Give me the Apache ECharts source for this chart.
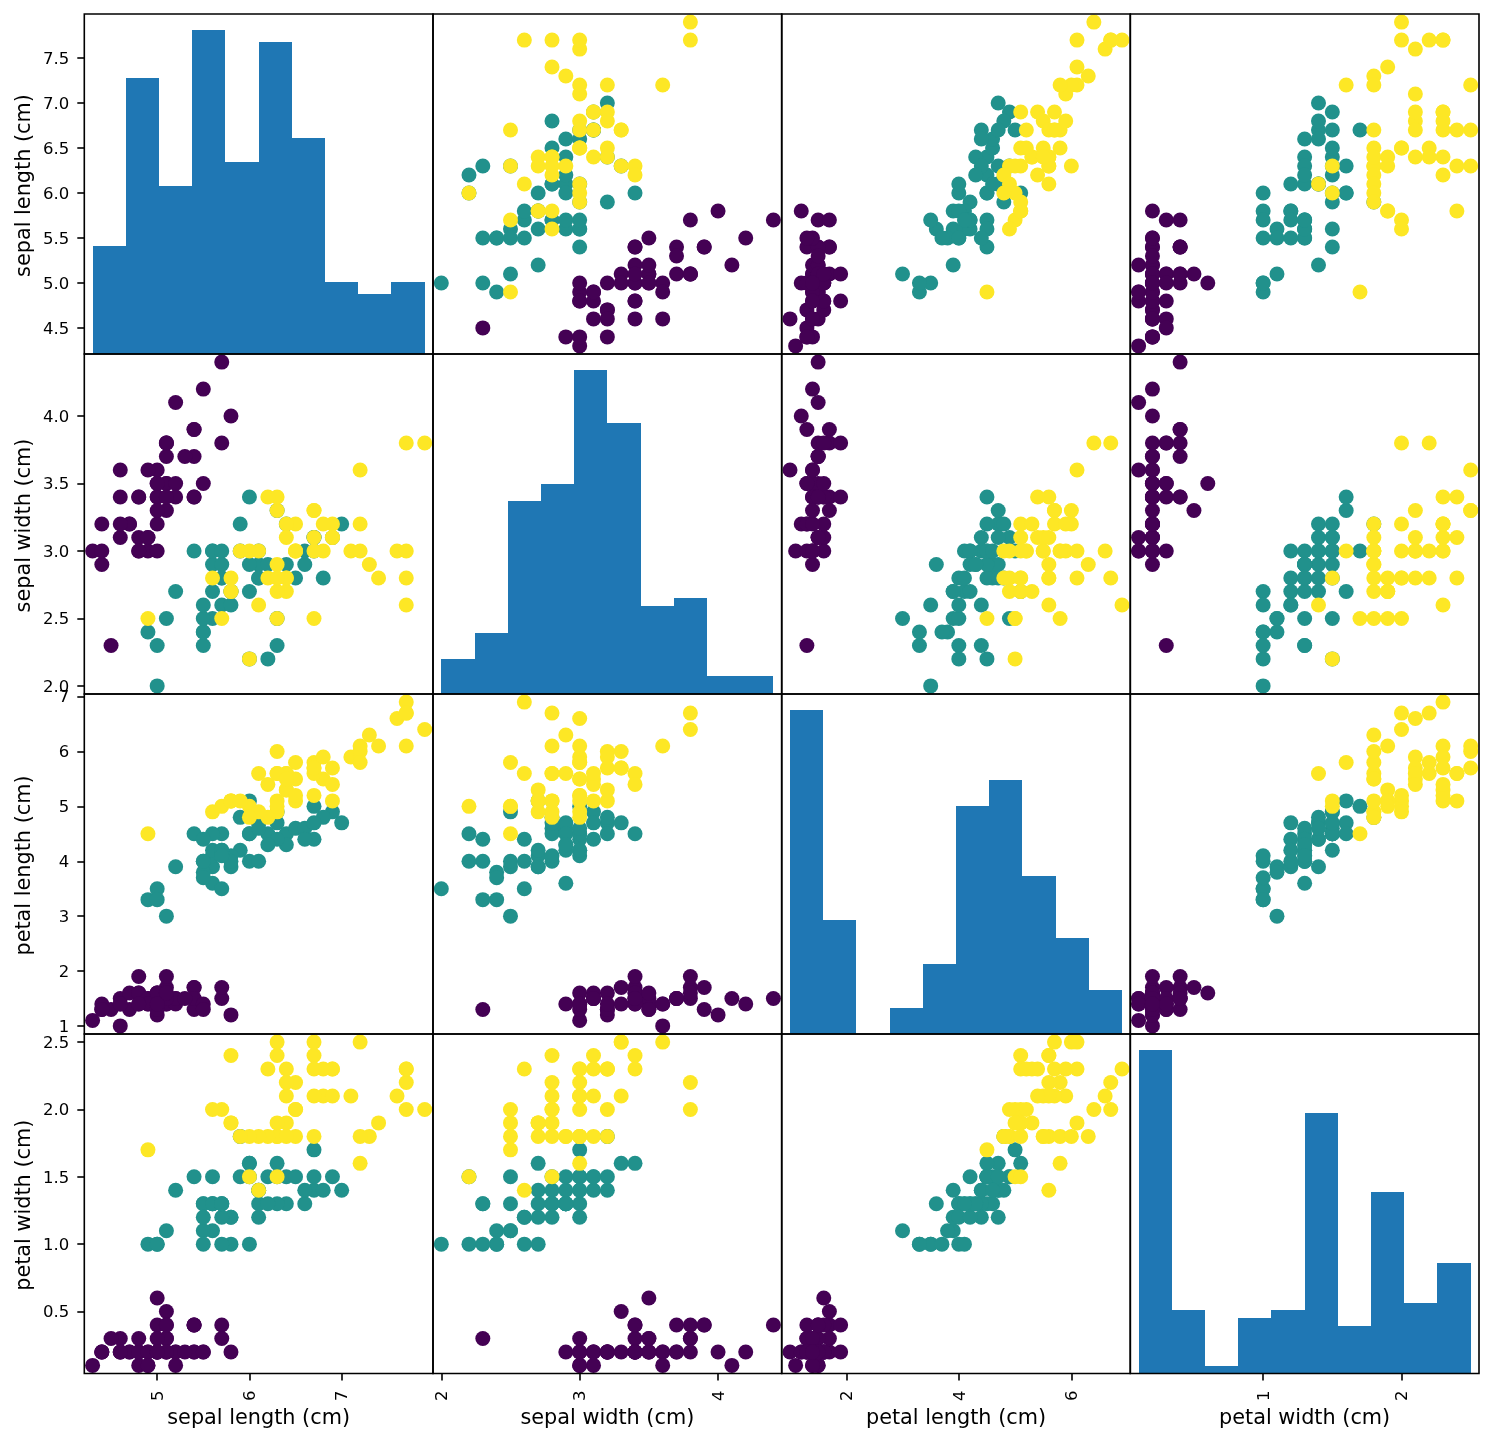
<!DOCTYPE html>
<html>
	<head>
		<meta charset="utf-8" />
		<title>iris scatter matrix</title>
		<script src="https://cdn.jsdelivr.net/npm/echarts@6/dist/echarts.min.js"></script>
		<style>
			* {
				margin: 0;
				padding: 0;
				box-sizing: border-box;
			}
			body {
				background: #fff;
			}
		</style>
	</head>
	<body>
		<div id="main" style="width: 1494px; height: 1442px"></div>
		<script>
			// 数据
			const sepalLength = [
				5.1,4.9,4.7,4.6,5.0,5.4,4.6,5.0,4.4,4.9,5.4,4.8,4.8,4.3,5.8,5.7,5.4,5.1,5.7,5.1,5.4,5.1,4.6,5.1,4.8,5.0,5.0,5.2,5.2,4.7,4.8,5.4,5.2,5.5,4.9,5.0,5.5,4.9,4.4,5.1,5.0,4.5,4.4,5.0,5.1,4.8,5.1,4.6,5.3,5.0,
				7.0,6.4,6.9,5.5,6.5,5.7,6.3,4.9,6.6,5.2,5.0,5.9,6.0,6.1,5.6,6.7,5.6,5.8,6.2,5.6,5.9,6.1,6.3,6.1,6.4,6.6,6.8,6.7,6.0,5.7,5.5,5.5,5.8,6.0,5.4,6.0,6.7,6.3,5.6,5.5,5.5,6.1,5.8,5.0,5.6,5.7,5.7,6.2,5.1,5.7,
				6.3,5.8,7.1,6.3,6.5,7.6,4.9,7.3,6.7,7.2,6.5,6.4,6.8,5.7,5.8,6.4,6.5,7.7,7.7,6.0,6.9,5.6,7.7,6.3,6.7,7.2,6.2,6.1,6.4,7.2,7.4,7.9,6.4,6.3,6.1,7.7,6.3,6.4,6.0,6.9,6.7,6.9,5.8,6.8,6.7,6.7,6.3,6.5,6.2,5.9,
			];
			const sepalWidth = [
				3.5,3.0,3.2,3.1,3.6,3.9,3.4,3.4,2.9,3.1,3.7,3.4,3.0,3.0,4.0,4.4,3.9,3.5,3.8,3.8,3.4,3.7,3.6,3.3,3.4,3.0,3.4,3.5,3.4,3.2,3.1,3.4,4.1,4.2,3.1,3.2,3.5,3.6,3.0,3.4,3.5,2.3,3.2,3.5,3.8,3.0,3.8,3.2,3.7,3.3,
				3.2,3.2,3.1,2.3,2.8,2.8,3.3,2.4,2.9,2.7,2.0,3.0,2.2,2.9,2.9,3.1,3.0,2.7,2.2,2.5,3.2,2.8,2.5,2.8,2.9,3.0,2.8,3.0,2.9,2.6,2.4,2.4,2.7,2.7,3.0,3.4,3.1,2.3,3.0,2.5,2.6,3.0,2.6,2.3,2.7,3.0,2.9,2.9,2.5,2.8,
				3.3,2.7,3.0,2.9,3.0,3.0,2.5,2.9,2.5,3.6,3.2,2.7,3.0,2.5,2.8,3.2,3.0,3.8,2.6,2.2,3.2,2.8,2.8,2.7,3.3,3.2,2.8,3.0,2.8,3.0,2.8,3.8,2.8,2.8,2.6,3.0,3.4,3.1,3.0,3.1,3.1,3.1,2.7,3.2,3.3,3.0,2.5,3.0,3.4,3.0,
			];
			const petalLength = [
				1.4,1.4,1.3,1.5,1.4,1.7,1.4,1.5,1.4,1.5,1.5,1.6,1.4,1.1,1.2,1.5,1.3,1.4,1.7,1.5,1.7,1.5,1.0,1.7,1.9,1.6,1.6,1.5,1.4,1.6,1.6,1.5,1.5,1.4,1.5,1.2,1.3,1.4,1.3,1.5,1.3,1.3,1.3,1.6,1.9,1.4,1.6,1.4,1.5,1.4,
				4.7,4.5,4.9,4.0,4.6,4.5,4.7,3.3,4.6,3.9,3.5,4.2,4.0,4.7,3.6,4.4,4.5,4.1,4.5,3.9,4.8,4.0,4.9,4.7,4.3,4.4,4.8,5.0,4.5,3.5,3.8,3.7,3.9,5.1,4.5,4.5,4.7,4.4,4.1,4.0,4.4,4.6,4.0,3.3,4.2,4.2,4.2,4.3,3.0,4.1,
				6.0,5.1,5.9,5.6,5.8,6.6,4.5,6.3,5.8,6.1,5.1,5.3,5.5,5.0,5.1,5.3,5.5,6.7,6.9,5.0,5.7,4.9,6.7,4.9,5.7,6.0,4.8,4.9,5.6,5.8,6.1,6.4,5.6,5.1,5.6,6.1,5.6,5.5,4.8,5.4,5.6,5.1,5.1,5.9,5.7,5.2,5.0,5.2,5.4,5.1,
			];
			const petalWidth = [
				0.2,0.2,0.2,0.2,0.2,0.4,0.3,0.2,0.2,0.1,0.2,0.2,0.1,0.1,0.2,0.4,0.4,0.3,0.3,0.3,0.2,0.4,0.2,0.5,0.2,0.2,0.4,0.2,0.2,0.2,0.2,0.4,0.1,0.2,0.2,0.2,0.2,0.1,0.2,0.2,0.3,0.3,0.2,0.6,0.4,0.3,0.2,0.2,0.2,0.2,
				1.4,1.5,1.5,1.3,1.5,1.3,1.6,1.0,1.3,1.4,1.0,1.5,1.0,1.4,1.3,1.4,1.5,1.0,1.5,1.1,1.8,1.3,1.5,1.2,1.3,1.4,1.4,1.7,1.5,1.0,1.1,1.0,1.2,1.6,1.5,1.6,1.5,1.3,1.3,1.3,1.2,1.4,1.2,1.0,1.3,1.2,1.3,1.3,1.1,1.3,
				2.5,1.9,2.1,1.8,2.2,2.1,1.7,1.8,1.8,2.5,2.0,1.9,2.1,2.0,2.4,2.3,1.8,2.2,2.3,1.5,2.3,2.0,2.0,1.8,2.1,1.8,1.8,1.8,2.1,1.6,1.9,2.0,2.2,1.5,1.4,2.3,2.4,1.8,1.8,2.1,2.4,2.3,1.9,2.3,2.5,2.3,1.9,2.0,2.3,1.8,
			];
			const species = [
				0,0,0,0,0,0,0,0,0,0,0,0,0,0,0,0,0,0,0,0,0,0,0,0,0,0,0,0,0,0,0,0,0,0,0,0,0,0,0,0,0,0,0,0,0,0,0,0,0,0,
				1,1,1,1,1,1,1,1,1,1,1,1,1,1,1,1,1,1,1,1,1,1,1,1,1,1,1,1,1,1,1,1,1,1,1,1,1,1,1,1,1,1,1,1,1,1,1,1,1,1,
				2,2,2,2,2,2,2,2,2,2,2,2,2,2,2,2,2,2,2,2,2,2,2,2,2,2,2,2,2,2,2,2,2,2,2,2,2,2,2,2,2,2,2,2,2,2,2,2,2,2,
			];

			const sepalLengthEdges = [4.3, 4.66, 5.02, 5.38, 5.74, 6.1, 6.46, 6.82, 7.18, 7.54, 7.9];
			const sepalWidthEdges = [2.0, 2.24, 2.48, 2.72, 2.96, 3.2, 3.44, 3.68, 3.92, 4.16, 4.4];
			const petalLengthEdges = [1.0, 1.59, 2.18, 2.77, 3.36, 3.95, 4.54, 5.13, 5.72, 6.31, 6.9];
			const petalWidthEdges = [0.1, 0.34, 0.58, 0.82, 1.06, 1.3, 1.54, 1.78, 2.02, 2.26, 2.5];

			const sepalLengthCounts = [9, 23, 14, 27, 16, 26, 18, 6, 5, 6];
			const sepalWidthCounts = [4, 7, 22, 24, 37, 31, 10, 11, 2, 2];
			const petalLengthCounts = [37, 13, 0, 3, 8, 26, 29, 18, 11, 5];
			const petalWidthCounts = [41, 8, 1, 7, 8, 33, 6, 23, 9, 14];

			const names = ['sepal length (cm)', 'sepal width (cm)', 'petal length (cm)', 'petal width (cm)'];
			const values = [sepalLength, sepalWidth, petalLength, petalWidth];
			const edges = [sepalLengthEdges, sepalWidthEdges, petalLengthEdges, petalWidthEdges];
			const counts = [sepalLengthCounts, sepalWidthCounts, petalLengthCounts, petalWidthCounts];

			// 坐标范围和刻度
			const axisMin = [4.21, 1.94, 0.8525, 0.04];
			const axisMax = [7.99, 4.46, 7.0475, 2.56];
			const xTicks = [[5, 6, 7], [2, 3, 4], [2, 4, 6], [1, 2]];
			const yTicks = [
				[4.5, 5, 5.5, 6, 6.5, 7, 7.5],
				[2, 2.5, 3, 3.5, 4],
				[1, 2, 3, 4, 5, 6, 7],
				[0.5, 1, 1.5, 2, 2.5],
			];
			const yDigits = [1, 1, 0, 1];

			const speciesColors = ['#440154', '#21918c', '#fde725'];
			const histColor = '#1f77b4';
			const fontName = 'DejaVu Sans';

			// 四行四列的位置
			const colEdges = [84.3, 433, 781.7, 1130.3, 1479];
			const rowEdges = [14, 354, 694, 1034, 1373.5];

			const grid = [];
			const xAxis = [];
			const yAxis = [];
			const series = [];

			// 边缘取整，避免相邻柱子之间出现细缝
			function renderHistBar(params, api) {
				const start = api.coord([api.value(0), api.value(2)]);
				const end = api.coord([api.value(1), 0]);
				const left = Math.round(start[0]);
				const right = Math.round(end[0]);
				const top = Math.round(start[1]);
				return {
					type: 'rect',
					shape: {x: left, y: top, width: right - left, height: end[1] - top},
					style: {fill: histColor},
				};
			}

			for (let row = 0; row < 4; row++) {
				for (let col = 0; col < 4; col++) {
					const index = grid.length;
					grid.push({
						show: true,
						z: 5,
						left: colEdges[col],
						top: rowEdges[row],
						width: colEdges[col + 1] - colEdges[col],
						height: rowEdges[row + 1] - rowEdges[row],
						borderColor: '#000',
						borderWidth: 1.6,
						backgroundColor: 'transparent',
					});
					const isBottom = row === 3;
					const isLeft = col === 0;
					xAxis.push({
						type: 'value',
						gridIndex: index,
						min: axisMin[col],
						max: axisMax[col],
						name: isBottom ? names[col] : '',
						nameLocation: 'middle',
						nameGap: 35,
						nameMoveOverlap: false,
						nameTextStyle: {fontFamily: fontName, fontSize: 20.8, color: '#000'},
						splitLine: {show: false},
						axisLine: {show: false},
						axisTick: {
							show: isBottom,
							length: 7,
							customValues: xTicks[col],
							lineStyle: {color: '#000', width: 1.6},
						},
						axisLabel: {
							show: isBottom,
							rotate: 90,
							margin: 17,
							verticalAlign: 'top',
							lineHeight: 3,
							customValues: xTicks[col],
							formatter: (v) => String(v),
							fontFamily: fontName,
							fontSize: 16.5,
							color: '#000',
						},
					});
					yAxis.push({
						type: 'value',
						gridIndex: index,
						min: axisMin[row],
						max: axisMax[row],
						name: isLeft ? names[row] : '',
						nameLocation: 'middle',
						nameGap: 49,
						nameMoveOverlap: false,
						nameTextStyle: {fontFamily: fontName, fontSize: 20.8, color: '#000', padding: [0, 3, 0, 0]},
						splitLine: {show: false},
						axisLine: {show: false},
						axisTick: {
							show: isLeft,
							length: 7,
							customValues: yTicks[row],
							lineStyle: {color: '#000', width: 1.6},
						},
						axisLabel: {
							show: isLeft,
							margin: 15,
							verticalAlign: 'top',
							lineHeight: 3,
							customValues: yTicks[row],
							formatter: (v) => v.toFixed(yDigits[row]),
							fontFamily: fontName,
							fontSize: 16.5,
							color: '#000',
						},
					});
					const cellYAxis = yAxis.length - 1;
					if (row === col) {
						// 对角线画直方图，计数轴隐藏
						yAxis.push({
							type: 'value',
							gridIndex: index,
							show: false,
							min: 0,
							max: Math.max(...counts[col]) * 1.05,
							splitLine: {show: false},
						});
						series.push({
							type: 'custom',
							xAxisIndex: index,
							yAxisIndex: cellYAxis + 1,
							clip: true,
							silent: true,
							renderItem: renderHistBar,
							encode: {x: [0, 1], y: 2},
							data: counts[col].map((c, i) => [edges[col][i], edges[col][i + 1], c]),
						});
					} else {
						series.push({
							type: 'scatter',
							xAxisIndex: index,
							yAxisIndex: cellYAxis,
							clip: true,
							silent: true,
							symbol: 'circle',
							symbolSize: 15,
							itemStyle: {
								opacity: 1,
								color: (p) => speciesColors[p.data[2]],
							},
							data: values[col].map((v, i) => [v, values[row][i], species[i]]),
						});
					}
				}
			}

			const myChart = echarts.init(document.getElementById('main'));
			myChart.setOption({
				animation: false,
				backgroundColor: '#fff',
				tooltip: {show: false},
				grid: grid,
				xAxis: xAxis,
				yAxis: yAxis,
				series: series,
			});
		</script>
	</body>
</html>
